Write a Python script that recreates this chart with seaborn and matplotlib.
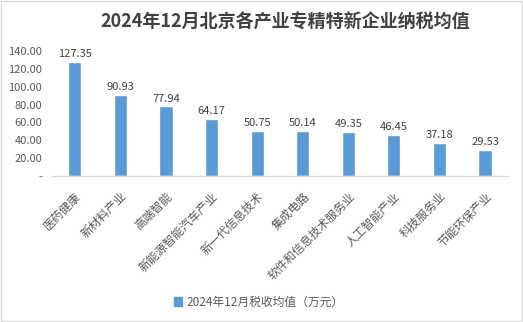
import matplotlib
matplotlib.use("Agg")
import matplotlib.pyplot as plt
import seaborn as sns
import pandas as pd
from matplotlib.patches import Patch

categories = ["医药健康", "新材料产业", "高端智能", "新能源智能汽车产业", "新一代信息技术",
              "集成电路", "软件和信息技术服务业", "人工智能产业", "科技服务业", "节能环保产业"]
values = [127.35, 90.93, 77.94, 64.17, 50.75, 50.14, 49.35, 46.45, 37.18, 29.53]
yticks = [0, 20, 40, 60, 80, 100, 120, 140]
title = "2024年12月北京各产业专精特新企业纳税均值"
legend_label = "2024年12月税收均值（万元）"

sns.set_theme(style="white")
plt.rcParams['font.family'] = ['Noto Sans CJK SC', 'DejaVu Sans']

df = pd.DataFrame({"cat": categories, "val": values})
color = "#5B9BD5"
text_color = "#595959"

fig = plt.figure(figsize=(5.23, 3.22), dpi=100)
ax = fig.add_axes([0.0994, 0.453, 0.8716, 0.389])
sns.barplot(data=df, x="cat", y="val", color=color, width=0.29, ax=ax, saturation=1)

ax.set_ylim(0, 140)
ax.set_yticks(yticks)
ax.set_yticklabels(["-" if v == 0 else f"{v:.2f}" for v in yticks], fontsize=8, color=text_color)
ax.set_xlim(-0.5, len(categories) - 0.5)
ax.set_xticks(range(len(categories)))
ax.set_xticklabels(categories, rotation=45, ha="right", rotation_mode="anchor",
                   fontsize=8.5, color=text_color)
ax.tick_params(axis="y", length=0, pad=7)
ax.tick_params(axis="x", length=0, pad=10)
ax.set_xlabel("")
ax.set_ylabel("")
for s in ["top", "right", "left"]:
    ax.spines[s].set_visible(False)
ax.spines["bottom"].set_color("#D9D9D9")
ax.spines["bottom"].set_linewidth(1)

for c in ax.containers:
    ax.bar_label(c, labels=[f"{v:.2f}" for v in values], fontsize=8, color="#404040", padding=2)

fig.text(0.545, 0.932, title, ha="center", va="center", fontsize=13, fontweight="bold", color="#404040")

handles = [Patch(facecolor=color, edgecolor=color, label=legend_label)]
fig.legend(handles=handles, loc="center", bbox_to_anchor=(0.495, 0.062), frameon=False,
           fontsize=8.5, labelcolor=text_color, handlelength=0.7, handleheight=0.7, handletextpad=0.4)

border = plt.Rectangle((0.001, 0.002), 0.997, 0.995, transform=fig.transFigure, fill=False,
                       edgecolor="#D9D9D9", linewidth=1)
fig.add_artist(border)

fig.savefig("out.png", dpi=100)
